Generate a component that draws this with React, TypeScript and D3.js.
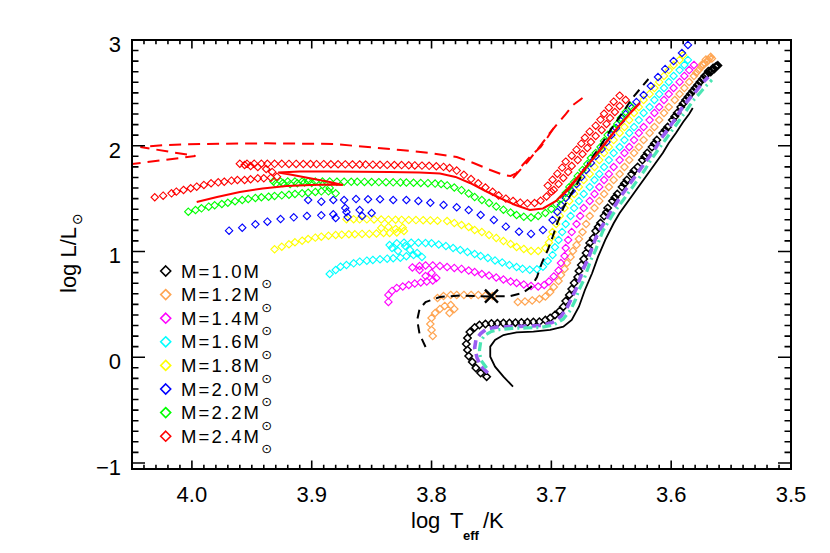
import React from 'react';
import * as d3 from 'd3';

type P = [number, number];

const W = 830, H = 553;
const M = { left: 132, right: 791, top: 40, bottom: 469 };
const xDomain: [number, number] = [4.05, 3.5];
const yDomain: [number, number] = [-1.057, 3.0];

const xMajorTicks = [4.0, 3.9, 3.8, 3.7, 3.6, 3.5];
const xTickLabels = ['4.0', '3.9', '3.8', '3.7', '3.6', '3.5'];
const yMajorTicks = [-1, 0, 1, 2, 3];
const yTickLabels = ['\u22121', '0', '1', '2', '3'];

const masses = ['1.0', '1.2', '1.4', '1.6', '1.8', '2.0', '2.2', '2.4'];
const massColors = ['#000000', '#ffa552', '#ff00ff', '#00ffff', '#ffff00', '#0000ff', '#00ff00', '#ff0000'];

// ---- diamond tracks [log Teff, log L] ----
const m10: P[] = [
  [3.754,-0.184],[3.759,-0.149],[3.763,-0.102],[3.766,-0.045],[3.769,0.012],[3.770,0.069],[3.771,0.125],[3.770,0.182],[3.768,0.239],[3.764,0.281],[3.760,0.305],[3.755,0.314],[3.750,0.319],[3.745,0.321],[3.740,0.324],[3.735,0.324],[3.730,0.327],[3.725,0.329],[3.720,0.331],[3.715,0.333],[3.710,0.336],[3.705,0.352],[3.701,0.371],[3.697,0.400],[3.693,0.437],[3.690,0.478],[3.688,0.532],[3.685,0.589],[3.683,0.645],[3.681,0.702],[3.678,0.759],[3.677,0.816],[3.675,0.872],[3.673,0.929],[3.671,0.986],[3.669,1.033],[3.668,1.080],[3.665,1.128],[3.663,1.194],[3.661,1.232],[3.659,1.270],
  [3.656,1.336],[3.653,1.411],[3.649,1.478],[3.645,1.544],[3.641,1.610],[3.637,1.676],[3.633,1.733],[3.628,1.799],[3.624,1.865],[3.620,1.931],[3.616,1.988],[3.612,2.054],[3.607,2.121],[3.603,2.177],[3.599,2.243],[3.595,2.310],[3.592,2.366],[3.588,2.433],[3.584,2.489],[3.580,2.546],[3.576,2.603],[3.572,2.660],[3.567,2.697],[3.564,2.726],[3.562,2.754],
  [3.654,1.372],[3.647,1.511],[3.639,1.643],[3.631,1.766],[3.622,1.898],[3.614,2.021],[3.605,2.149],[3.597,2.276],[3.590,2.400],[3.582,2.518],[3.574,2.631],
  [3.569,2.705],[3.565,2.735],[3.561,2.760],[3.563,2.748],[3.566,2.716],[3.570,2.678],[3.578,2.575],[3.586,2.461]
];

const m12: P[] = [
  [3.799,0.201],[3.800,0.258],[3.801,0.314],[3.800,0.371],[3.797,0.418],[3.793,0.456],[3.789,0.485],[3.784,0.494],[3.781,0.456],[3.785,0.418],
  [3.795,0.560],[3.790,0.579],[3.784,0.589],[3.779,0.589],[3.773,0.589],[3.767,0.589],[3.761,0.589],[3.755,0.584],[3.749,0.579],
  [3.728,0.522],[3.722,0.527],[3.716,0.537],[3.710,0.551],[3.705,0.575],[3.701,0.617],[3.698,0.664],[3.694,0.721],[3.692,0.778],[3.689,0.835],[3.687,0.891],[3.684,0.948],[3.682,1.005],[3.679,1.061],[3.677,1.118],[3.674,1.184],[3.671,1.260],[3.668,1.336],[3.664,1.411],[3.660,1.478],[3.656,1.544],[3.652,1.610],[3.648,1.676],[3.643,1.733],[3.639,1.799],[3.635,1.865],[3.631,1.931],[3.627,1.988],[3.623,2.054],[3.618,2.121],[3.614,2.177],[3.610,2.243],[3.606,2.310],[3.602,2.366],[3.597,2.433],[3.593,2.489],[3.589,2.546],[3.585,2.603],[3.581,2.660],[3.577,2.716],[3.573,2.764],[3.569,2.811],[3.568,2.830],
  [3.570,2.795],[3.572,2.780],[3.567,2.840],[3.575,2.745],[3.579,2.690],[3.571,2.815],[3.566,2.825],[3.574,2.770]
];

const m14: P[] = [
  [3.836,0.523],[3.836,0.589],[3.833,0.627],[3.829,0.655],[3.824,0.669],[3.819,0.683],[3.814,0.697],[3.809,0.707],[3.804,0.716],[3.799,0.726],
  [3.805,0.768],[3.800,0.797],[3.796,0.749],[3.810,0.825],
  [3.816,0.849],[3.810,0.863],[3.805,0.868],[3.799,0.868],[3.793,0.863],[3.787,0.853],[3.781,0.844],[3.775,0.835],[3.769,0.820],[3.764,0.806],[3.758,0.787],[3.752,0.773],[3.746,0.754],[3.740,0.735],[3.734,0.716],[3.729,0.702],[3.723,0.688],[3.717,0.674],[3.711,0.669],[3.706,0.683],[3.702,0.716],[3.698,0.764],[3.694,0.820],
  [3.692,0.891],[3.689,0.957],[3.688,1.033],[3.686,1.109],[3.683,1.184],[3.679,1.260],[3.676,1.336],[3.673,1.411],[3.668,1.478],[3.664,1.544],[3.660,1.610],[3.656,1.676],[3.652,1.733],[3.648,1.799],[3.643,1.865],[3.639,1.931],[3.635,1.988],[3.631,2.054],[3.627,2.121],[3.623,2.177],[3.618,2.243],[3.614,2.310],[3.610,2.366],[3.606,2.433],[3.602,2.489],[3.598,2.546],[3.593,2.603],[3.589,2.660],[3.585,2.716],[3.581,2.764]
];

const m16: P[] = [
  [3.885,0.787],[3.880,0.825],[3.876,0.856],[3.871,0.872],[3.865,0.888],[3.860,0.904],[3.854,0.913],[3.849,0.920],[3.843,0.926],[3.837,0.932],[3.832,0.936],[3.826,0.941],[3.821,0.955],[3.815,0.967],
  [3.818,1.014],[3.812,0.986],[3.808,0.948],[3.833,1.033],[3.828,1.005],[3.822,1.052],
  [3.835,1.061],[3.829,1.078],[3.823,1.083],[3.817,1.083],[3.811,1.083],[3.805,1.080],[3.800,1.078],[3.794,1.066],[3.788,1.052],[3.782,1.033],[3.776,1.014],[3.770,0.995],[3.764,0.976],[3.759,0.957],[3.753,0.939],[3.747,0.915],[3.741,0.896],[3.735,0.872],[3.729,0.853],[3.724,0.836],[3.718,0.827],[3.712,0.832],[3.707,0.856],[3.703,0.910],[3.699,0.967],[3.697,1.040],
  [3.694,1.109],[3.691,1.184],[3.688,1.260],[3.684,1.336],[3.681,1.411],[3.677,1.478],[3.673,1.544],[3.668,1.610],[3.664,1.676],[3.660,1.733],[3.656,1.799],[3.652,1.865],[3.648,1.931],[3.643,1.988],[3.639,2.054],[3.635,2.121],[3.631,2.177],[3.627,2.243],[3.623,2.310],[3.618,2.366],[3.614,2.433],[3.610,2.489],[3.606,2.546],[3.602,2.603],[3.598,2.660],[3.593,2.716],[3.589,2.764],[3.586,2.811]
];

const m18: P[] = [
  [3.931,1.021],[3.925,1.045],[3.919,1.068],[3.914,1.087],[3.908,1.102],[3.903,1.118],[3.897,1.131],[3.892,1.140],[3.886,1.149],[3.880,1.156],[3.875,1.159],[3.869,1.163],[3.864,1.163],[3.858,1.166],[3.852,1.166],[3.846,1.170],[3.840,1.175],[3.835,1.175],[3.829,1.180],[3.823,1.194],
  [3.836,1.232],[3.830,1.213],[3.842,1.222],[3.824,1.225],
  [3.871,1.305],[3.865,1.305],[3.860,1.304],[3.854,1.304],[3.848,1.303],[3.842,1.302],[3.836,1.301],[3.830,1.300],[3.825,1.299],[3.819,1.298],[3.813,1.297],[3.807,1.296],[3.801,1.294],[3.795,1.291],
  [3.787,1.288],[3.781,1.269],[3.775,1.251],[3.769,1.232],[3.764,1.203],[3.758,1.184],[3.752,1.156],[3.746,1.128],[3.740,1.099],[3.734,1.071],[3.729,1.043],[3.723,1.024],[3.717,1.005],[3.711,1.005],[3.705,1.033],[3.702,1.085],[3.700,1.135],
  [3.699,1.184],[3.696,1.260],[3.693,1.336],[3.689,1.411],[3.685,1.478],[3.681,1.544],[3.677,1.610],[3.673,1.676],[3.668,1.733],[3.664,1.799],[3.660,1.865],[3.656,1.931],[3.652,1.988],[3.648,2.054],[3.643,2.121],[3.639,2.177],[3.635,2.243],[3.631,2.310],[3.627,2.366],[3.623,2.433],[3.618,2.489],[3.614,2.546],[3.610,2.603],[3.606,2.660],[3.602,2.716],[3.598,2.764],[3.593,2.811],[3.590,2.858]
];

const m20: P[] = [
  [3.969,1.197],[3.958,1.225],[3.947,1.257],[3.937,1.282],[3.926,1.307],[3.915,1.323],[3.904,1.336],[3.892,1.342],[3.882,1.352],[3.871,1.374],
  [3.880,1.317],[3.872,1.411],[3.870,1.326],[3.860,1.392],[3.858,1.336],[3.850,1.364],
  [3.903,1.487],[3.892,1.471],[3.882,1.487],[3.873,1.487],[3.863,1.496],[3.853,1.494],[3.843,1.494],[3.832,1.487],[3.821,1.487],[3.811,1.478],[3.801,1.461],[3.790,1.440],[3.779,1.418],[3.769,1.392],[3.759,1.345],[3.748,1.298],[3.738,1.235],[3.727,1.187],[3.717,1.166],[3.707,1.203],
  [3.699,1.298],[3.695,1.374],[3.692,1.440],[3.688,1.506],[3.683,1.572],[3.679,1.638],[3.675,1.705],[3.671,1.771],[3.667,1.837],[3.663,1.903],[3.658,1.969],[3.654,2.035],[3.650,2.102],[3.646,2.168],[3.642,2.234],[3.638,2.300],[3.633,2.357],[3.629,2.414],[3.623,2.480],[3.617,2.565],[3.611,2.650],[3.605,2.726],[3.598,2.801],[3.591,2.877],[3.586,2.953]
];

const m22: P[] = [
  [4.003,1.376],[3.997,1.392],[3.992,1.408],[3.986,1.424],[3.981,1.437],[3.975,1.449],[3.970,1.461],[3.964,1.475],[3.958,1.487],[3.953,1.496],[3.947,1.506],[3.942,1.513],[3.936,1.518],[3.931,1.525],[3.925,1.531],[3.919,1.537],[3.914,1.544],[3.908,1.550],[3.903,1.556],[3.897,1.563],[3.892,1.569],[3.886,1.569],[3.880,1.550],
  [3.885,1.601],[3.891,1.629],[3.900,1.648],[3.930,1.640],[3.924,1.648],[3.918,1.637],[3.912,1.645],[3.906,1.652],
  [3.932,1.662],[3.926,1.662],[3.920,1.662],[3.914,1.662],[3.908,1.662],[3.903,1.662],[3.897,1.662],[3.891,1.661],[3.885,1.661],[3.879,1.660],[3.873,1.660],[3.867,1.659],[3.862,1.659],[3.856,1.658],[3.850,1.657],[3.844,1.656],[3.838,1.655],[3.832,1.654],[3.826,1.653],[3.821,1.652],[3.815,1.650],[3.809,1.648],[3.803,1.646],[3.797,1.642],
  [3.792,1.638],[3.787,1.625],[3.781,1.605],[3.775,1.580],[3.769,1.548],[3.764,1.515],[3.758,1.487],[3.752,1.459],[3.746,1.425],[3.740,1.395],[3.734,1.368],[3.729,1.345],[3.723,1.328],[3.717,1.322],[3.711,1.336],[3.705,1.364],[3.700,1.402],[3.696,1.449],[3.692,1.497],
  [3.688,1.553],[3.685,1.610],[3.681,1.657],[3.678,1.714],[3.674,1.771],[3.670,1.827],[3.667,1.884],[3.663,1.931],[3.659,1.988],[3.656,2.045],[3.653,2.102],[3.648,2.158],[3.645,2.206],[3.642,2.262],[3.638,2.319],[3.634,2.376]
];

const m24: P[] = [
  [4.031,1.513],[4.024,1.528],[4.017,1.550],[4.013,1.566],[4.007,1.582],[4.001,1.598],[3.996,1.613],[3.990,1.629],[3.984,1.645],[3.978,1.654],[3.973,1.660],[3.967,1.670],[3.962,1.676],[3.956,1.676],[3.951,1.683],[3.945,1.692],[3.940,1.692],[3.934,1.698],[3.929,1.707],
  [3.933,1.752],[3.938,1.780],[3.945,1.799],[3.951,1.808],[3.956,1.818],
  [3.960,1.830],[3.954,1.830],[3.948,1.830],[3.942,1.830],[3.937,1.829],[3.931,1.829],[3.925,1.829],[3.919,1.828],[3.913,1.828],[3.907,1.827],[3.901,1.827],[3.896,1.826],[3.890,1.826],[3.884,1.825],[3.878,1.825],[3.872,1.824],[3.866,1.823],[3.860,1.823],[3.855,1.822],[3.849,1.821],[3.843,1.820],[3.837,1.819],[3.831,1.818],[3.825,1.817],[3.819,1.815],[3.814,1.814],[3.808,1.812],[3.802,1.810],[3.796,1.806],[3.790,1.800],
  [3.785,1.790],[3.779,1.765],[3.773,1.725],[3.767,1.685],[3.761,1.645],[3.755,1.605],[3.749,1.565],[3.744,1.530],[3.738,1.500],[3.732,1.478],[3.726,1.462],[3.720,1.455],[3.714,1.458],[3.709,1.480],[3.704,1.520],[3.700,1.565],
  [3.698,1.582],[3.694,1.638],[3.690,1.695],[3.686,1.752],[3.683,1.809],[3.678,1.865],[3.674,1.922],[3.670,1.979],[3.667,2.035],[3.663,2.092],[3.658,2.149],[3.654,2.206],[3.651,2.262],[3.647,2.319],[3.643,2.376],[3.638,2.433],
  [3.703,1.623],[3.699,1.679],[3.695,1.736],[3.691,1.793],[3.688,1.850],[3.683,1.906],[3.679,1.963],[3.675,2.020],[3.672,2.076],[3.668,2.133],[3.663,2.190],[3.659,2.247],[3.656,2.303],[3.652,2.360],[3.648,2.417],[3.643,2.474]
];

// ---- model lines ----
const redSolid: P[] = [
  [3.996,1.468],[3.979,1.515],[3.960,1.563],[3.941,1.596],[3.921,1.619],[3.901,1.629],[3.885,1.634],[3.874,1.629],[3.885,1.657],[3.896,1.681],[3.907,1.705],[3.918,1.728],[3.928,1.747],[3.910,1.757],[3.885,1.757],[3.860,1.754],[3.835,1.752],[3.810,1.747],[3.793,1.738],[3.780,1.705],[3.768,1.648],[3.755,1.572],[3.743,1.506],[3.730,1.440],[3.718,1.392],[3.707,1.407],[3.696,1.478],[3.688,1.572],[3.678,1.705],[3.666,1.865],[3.654,2.035],[3.643,2.196],[3.632,2.338],[3.626,2.404],[3.634,2.310],[3.645,2.168],[3.657,1.998],[3.668,1.837],[3.678,1.695],[3.686,1.582],[3.693,1.506]
];

const redDashedA: P[] = [
  [3.698,2.168],[3.703,2.083],[3.709,1.988],[3.718,1.894],[3.724,1.818],[3.729,1.742],[3.734,1.714],[3.740,1.723],[3.751,1.771],[3.765,1.837],[3.779,1.894],[3.801,1.931],[3.826,1.960],[3.882,2.017],[3.937,2.023],[3.993,2.017],[4.021,2.007],[4.043,1.988],[3.997,1.903],[4.053,1.823]
];

const redDashedB: P[] = [
  [3.732,1.695],[3.726,1.771],[3.720,1.846],[3.714,1.931],[3.708,2.017],[3.702,2.111],[3.695,2.206],[3.688,2.300],[3.682,2.385],[3.674,2.452]
];

const blackDashed: P[] = [
  [3.805,0.097],[3.810,0.220],[3.812,0.352],[3.810,0.456],[3.805,0.522],[3.793,0.570],[3.776,0.584],[3.764,0.579],[3.750,0.575],[3.734,0.579],[3.724,0.608],[3.717,0.664],[3.712,0.759],[3.708,0.891],[3.703,1.014],[3.699,1.137],[3.695,1.270],[3.690,1.411],[3.685,1.515],[3.679,1.629],[3.673,1.761],[3.666,1.884],[3.659,1.998],[3.653,2.111],[3.646,2.225],[3.639,2.338],[3.633,2.442],[3.626,2.537],[3.619,2.631]
];

const blackSolid: P[] = [
  [3.732,-0.278],[3.740,-0.184],[3.747,-0.089],[3.751,0.005],[3.751,0.100],[3.747,0.163],[3.740,0.210],[3.729,0.236],[3.715,0.242],[3.701,0.258],[3.690,0.289],[3.683,0.352],[3.677,0.478],[3.672,0.636],[3.666,0.794],[3.661,0.951],[3.655,1.109],[3.648,1.267],[3.643,1.364],[3.637,1.459],[3.631,1.553],[3.625,1.648],[3.619,1.742],[3.613,1.837],[3.607,1.931],[3.602,2.026],[3.596,2.121],[3.590,2.225],[3.585,2.300],[3.582,2.357]
];

const violetDashed: P[] = [
  [3.753,-0.149],[3.759,-0.083],[3.762,-0.007],[3.764,0.088],[3.763,0.163],[3.759,0.225],[3.754,0.267],[3.745,0.286],[3.734,0.291],[3.722,0.293],[3.709,0.300],[3.699,0.329],[3.692,0.385],[3.687,0.466],[3.683,0.560],[3.679,0.655],[3.676,0.749],[3.673,0.844],[3.669,0.939],[3.666,1.033],[3.663,1.128],[3.659,1.213],[3.655,1.288],[3.651,1.364],[3.647,1.430],[3.643,1.506],[3.637,1.601],[3.631,1.695],[3.625,1.790],[3.619,1.884],[3.613,1.979],[3.608,2.073],[3.602,2.168],[3.596,2.262],[3.591,2.357],[3.585,2.442],[3.579,2.518],[3.574,2.593],[3.569,2.650]
];

const aquaDashDot: P[] = [
  [3.754,-0.102],[3.759,-0.026],[3.760,0.069],[3.759,0.144],[3.756,0.206],[3.750,0.244],[3.743,0.262],[3.733,0.272],[3.721,0.277],[3.709,0.281],[3.698,0.305],[3.690,0.362],[3.684,0.447],[3.680,0.541],[3.677,0.636],[3.673,0.730],[3.670,0.825],[3.667,0.920],[3.663,1.014],[3.660,1.109],[3.657,1.194],[3.653,1.270],[3.649,1.345],[3.645,1.411],[3.640,1.487],[3.634,1.582],[3.628,1.676],[3.622,1.771],[3.617,1.865],[3.611,1.960],[3.605,2.054],[3.599,2.149],[3.593,2.243],[3.587,2.338],[3.582,2.423],[3.576,2.499],[3.571,2.565],[3.566,2.622]
];

const crossPoint: P = [3.750, 0.577];

const FONT = "'Liberation Sans', Arial, Helvetica, sans-serif";
const SYM_FONT = "'DejaVu Sans', sans-serif";

export default function App() {
  const x = d3.scaleLinear().domain(xDomain).range([M.left, M.right]);
  const y = d3.scaleLinear().domain(yDomain).range([M.bottom, M.top]);
  const line = d3.line<P>().x(d => x(d[0])).y(d => y(d[1]));
  const tracks = [m10, m12, m14, m16, m18, m20, m22, m24];
  const trackStroke = [1.5, 1.2, 1.1, 1.1, 1.1, 1.1, 1.1, 1.1];

  const diamondPath = (pts: P[], h: number) =>
    pts.map(p => {
      const cx = x(p[0]), cy = y(p[1]);
      return `M${cx},${cy - h}L${cx + h},${cy}L${cx},${cy + h}L${cx - h},${cy}Z`;
    }).join('');

  const xMinor = d3.range(350, 406).map(i => i / 100);
  const yMinor = d3.range(-10, 31).map(i => i / 10);
  const xMajLen = 8.5, xMinLen = 4.3, yMajLen = 13, yMinLen = 6.5;

  let tickD = '';
  xMinor.forEach(v => {
    const major = Math.abs(v * 10 - Math.round(v * 10)) < 1e-6;
    const len = major ? xMajLen : xMinLen;
    const px = x(v);
    tickD += `M${px},${M.bottom}V${M.bottom - len}M${px},${M.top}V${M.top + len}`;
  });
  yMinor.forEach(v => {
    const major = Math.abs(v - Math.round(v)) < 1e-6;
    const len = major ? yMajLen : yMinLen;
    const py = y(v);
    tickD += `M${M.left},${py}H${M.left + len}M${M.right},${py}H${M.right - len}`;
  });

  const cx = x(crossPoint[0]), cy = y(crossPoint[1]);
  const cs = 6.5;
  const legendY0 = 271, legendDy = 23.6, legendX = 165.7;

  return (
    <svg width={W} height={H} style={{ position: 'absolute', left: 0, top: 0, background: '#fff' }}
      fontFamily={FONT}>
      <defs>
        <clipPath id="plotclip">
          <rect x={M.left} y={M.top} width={M.right - M.left} height={M.bottom - M.top} />
        </clipPath>
      </defs>
      <rect x={0} y={0} width={W} height={H} fill="#fff" />

      <g clipPath="url(#plotclip)">
        {tracks.map((t, i) => (
          <path key={i} d={diamondPath(t, 3.7)} fill="none" stroke={massColors[i]} strokeWidth={trackStroke[i]} />
        ))}
        <path d={line(blackSolid) || ''} fill="none" stroke="#000" strokeWidth={1.8} />
        <path d={line(violetDashed) || ''} fill="none" stroke="#9a5cf2" strokeWidth={3.6} strokeDasharray="9,5" />
        <path d={line(aquaDashDot) || ''} fill="none" stroke="#4ce6b4" strokeWidth={3.2} strokeDasharray="9,4,2,4" />
        <path d={line(blackDashed) || ''} fill="none" stroke="#000" strokeWidth={2} strokeDasharray="9,6" />
        <path d={line(redSolid) || ''} fill="none" stroke="#ff0000" strokeWidth={2} />
        <path d={line(redDashedA) || ''} fill="none" stroke="#ff0000" strokeWidth={2} strokeDasharray="12,7" />
        <path d={line(redDashedB) || ''} fill="none" stroke="#ff0000" strokeWidth={2} strokeDasharray="12,7" />
        <path d={`M${cx - cs},${cy - cs}L${cx + cs},${cy + cs}M${cx - cs},${cy + cs}L${cx + cs},${cy - cs}`}
          stroke="#000" strokeWidth={2.4} fill="none" />
      </g>

      {/* frame and ticks */}
      <rect x={M.left} y={M.top} width={M.right - M.left} height={M.bottom - M.top} fill="none" stroke="#000" strokeWidth={2} />
      <path d={tickD} fill="none" stroke="#000" strokeWidth={1.6} />

      {xMajorTicks.map((v, i) => (
        <text key={'xl' + i} x={x(v)} y={502} textAnchor="middle" fontSize={22}>{xTickLabels[i]}</text>
      ))}
      {yMajorTicks.map((v, i) => (
        <text key={'yl' + i} x={121} y={y(v) + 12} textAnchor="end" fontSize={22}>{yTickLabels[i]}</text>
      ))}

      {/* x title */}
      <text x={411} y={528} fontSize={22}>log</text>
      <text x={450} y={528} fontSize={22}>T</text>
      <text x={463} y={540} fontSize={13} fontWeight="bold">eff</text>
      <text x={483} y={528} fontSize={22}>/K</text>

      {/* y title */}
      <g transform="translate(76,293) rotate(-90)">
        <text x={0} y={0} fontSize={22}>log L/L</text>
        <text x={68} y={6} fontSize={14} fontFamily={SYM_FONT}>{'\u2299'}</text>
      </g>

      {/* legend */}
      {masses.map((m, i) => {
        const ly = legendY0 + i * legendDy;
        const h = 5;
        return (
          <g key={'lg' + i}>
            <path d={`M${legendX},${ly - h}L${legendX + h},${ly}L${legendX},${ly + h}L${legendX - h},${ly}Z`}
              fill="none" stroke={massColors[i]} strokeWidth={1.6} />
            <text x={181} y={ly + 6.5} fontSize={18.5} textLength={78} lengthAdjust="spacing">{`M=${m}M`}</text>
            <text x={266.7} y={ly + 12.7} fontSize={13} fontFamily={SYM_FONT} textAnchor="middle"
              dominantBaseline="central">{'\u2299'}</text>
          </g>
        );
      })}
    </svg>
  );
}
